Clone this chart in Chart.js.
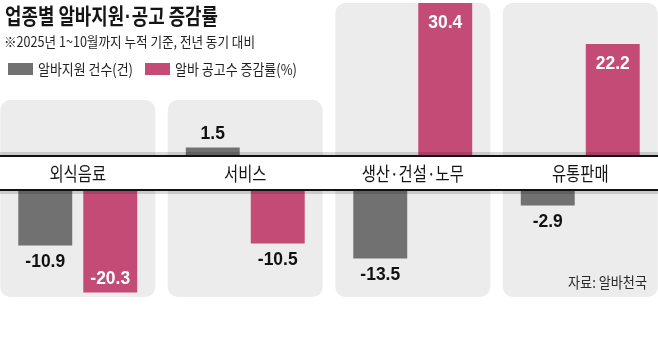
<!DOCTYPE html>
<html><head><meta charset="utf-8">
<script src="https://cdn.jsdelivr.net/npm/chart.js@4/dist/chart.umd.min.js"></script>
<style>
html,body{margin:0;padding:0;background:#fff;width:658px;height:339px;overflow:hidden;position:relative;}
#wrap{position:absolute;left:-6px;top:0;width:670px;height:339px;}
.t{position:absolute;white-space:nowrap;font-family:"Noto Sans CJK KR","Noto Sans",sans-serif;transform-origin:0 50%;line-height:1;}
#title{left:5px;top:3px;font-size:22px;font-weight:700;color:#151515;}
#title .d{font-family:"Liberation Sans",Arial,sans-serif;margin:0 1px;}
#sub{left:4px;top:34px;font-size:14px;color:#242424;}
.sw{position:absolute;width:25px;height:12px;top:63px;}
.lg{top:61px;font-size:15px;color:#1e1e1e;}
#src{top:274px;font-size:15px;color:#2a2a2a;left:568px;}
</style></head>
<body>
<div id="wrap"><canvas id="c" width="670" height="339"></canvas></div>
<div class="t" id="title" data-w="213">업종별 알바지원<span class="d">·</span>공고 증감률</div>
<div class="t" id="sub" data-w="251">※2025년 1~10월까지 누적 기준, 전년 동기 대비</div>
<div class="sw" id="sw0" style="left:8px"></div>
<div class="t lg" id="lg0" style="left:38px" data-w="95"></div>
<div class="sw" id="sw1" style="left:145px"></div>
<div class="t lg" id="lg1" style="left:175px" data-w="122"></div>
<div class="t" id="src" data-w="79">자료: 알바천국</div>
<script>
const categories = ['외식음료', '서비스', '생산·건설·노무', '유통판매'];
const seriesNames = ['알바지원 건수(건)', '알바 공고수 증감률(%)'];
const applicants = [-10.9, 1.5, -13.5, -2.9];
const postings = [-20.3, -10.5, 30.4, 22.2];
const seriesValues = [applicants, postings];
const colors = ['#717171', '#c44b76'];

document.getElementById('sw0').style.background = colors[0];
document.getElementById('sw1').style.background = colors[1];
document.getElementById('lg0').textContent = seriesNames[0];
document.getElementById('lg1').textContent = seriesNames[1];
document.querySelectorAll('[data-w]').forEach(el => {
  const w = el.getBoundingClientRect().width;
  el.style.transform = 'scaleX(' + (parseFloat(el.dataset.w) / w) + ')';
});

const PX = 5; // pixels per unit
const BAND_TOP = 155, BAND_BOT = 191, H = 339;

function fmt(v){ return (v < 0 ? '-' : '') + Math.abs(v).toFixed(1); }

const datasets = [];
[false, true].forEach(neg => {
  seriesValues.forEach((vals, s) => {
    datasets.push({
      label: seriesNames[s],
      data: vals.map(v => (neg ? v < 0 : v >= 0) ? v : null),
      backgroundColor: colors[s],
      borderWidth: 0,
      yAxisID: neg ? 'yNeg' : 'y',
      stack: 's' + s,
      barPercentage: 0.83,
      categoryPercentage: 0.776
    });
  });
});

function drawScaled(ctx, text, x, y, font, color, sx, align){
  ctx.save();
  ctx.font = font;
  ctx.fillStyle = color;
  ctx.textBaseline = 'middle';
  ctx.textAlign = align || 'center';
  ctx.translate(x, y);
  ctx.scale(sx, 1);
  ctx.fillText(text, 0, 0);
  ctx.restore();
}

const decor = {
  id: 'decor',
  beforeDatasetsDraw(chart){
    const ctx = chart.ctx, x = chart.scales.x;
    ctx.save();
    ctx.fillStyle = '#ececec';
    categories.forEach((c, i) => {
      const cx = x.getPixelForValue(i);
      const top = i < 2 ? 100 : 3;
      ctx.beginPath();
      ctx.roundRect(cx - 77.5, top, 155, 297 - top, 10);
      ctx.fill();
    });
    ctx.restore();
  },
  afterDatasetsDraw(chart){
    const ctx = chart.ctx, x = chart.scales.x, W = chart.width;
    ctx.save();
    ctx.fillStyle = 'rgba(0,0,0,0.14)';
    ctx.fillRect(0, BAND_TOP - 3, W, 3);
    ctx.fillRect(0, BAND_BOT, W, 3);
    ctx.fillStyle = '#111';
    ctx.fillRect(0, BAND_TOP, W, BAND_BOT - BAND_TOP);
    ctx.fillStyle = '#fff';
    ctx.fillRect(0, BAND_TOP + 2, W, BAND_BOT - BAND_TOP - 4);
    ctx.restore();
    categories.forEach((c, i) => {
      drawScaled(ctx, c, x.getPixelForValue(i), (BAND_TOP + BAND_BOT) / 2 + 0.5,
        '19px "Noto Sans CJK KR"', '#151515', 0.81);
    });
    chart.data.datasets.forEach((ds, di) => {
      const meta = chart.getDatasetMeta(di);
      meta.data.forEach((el, i) => {
        const v = ds.data[i];
        if (v === null || v === undefined) return;
        const inside = Math.abs(v) >= 20;
        let y;
        if (v >= 0) { y = inside ? el.y + 20 : el.y - 13; }
        else { y = inside ? el.y - 13 : el.y + 16.5; }
        const col = inside ? '#fff' : '#111';
        drawScaled(ctx, fmt(v), el.x, y, 'bold 18px "Liberation Sans", Arial, sans-serif', col, 0.97);
      });
    });
  }
};

new Chart(document.getElementById('c'), {
  type: 'bar',
  data: { labels: categories, datasets },
  options: {
    responsive: false,
    animation: false,
    devicePixelRatio: 1,
    layout: { padding: 0 },
    plugins: { legend: { display: false }, tooltip: { enabled: false } },
    scales: {
      x: { display: false, stacked: true, offset: true },
      y: { display: false, stacked: false, min: -(H - BAND_TOP) / PX, max: BAND_TOP / PX },
      yNeg: { display: false, stacked: false, min: -(H - BAND_BOT) / PX, max: BAND_BOT / PX }
    }
  },
  plugins: [decor]
});
</script>
</body></html>
